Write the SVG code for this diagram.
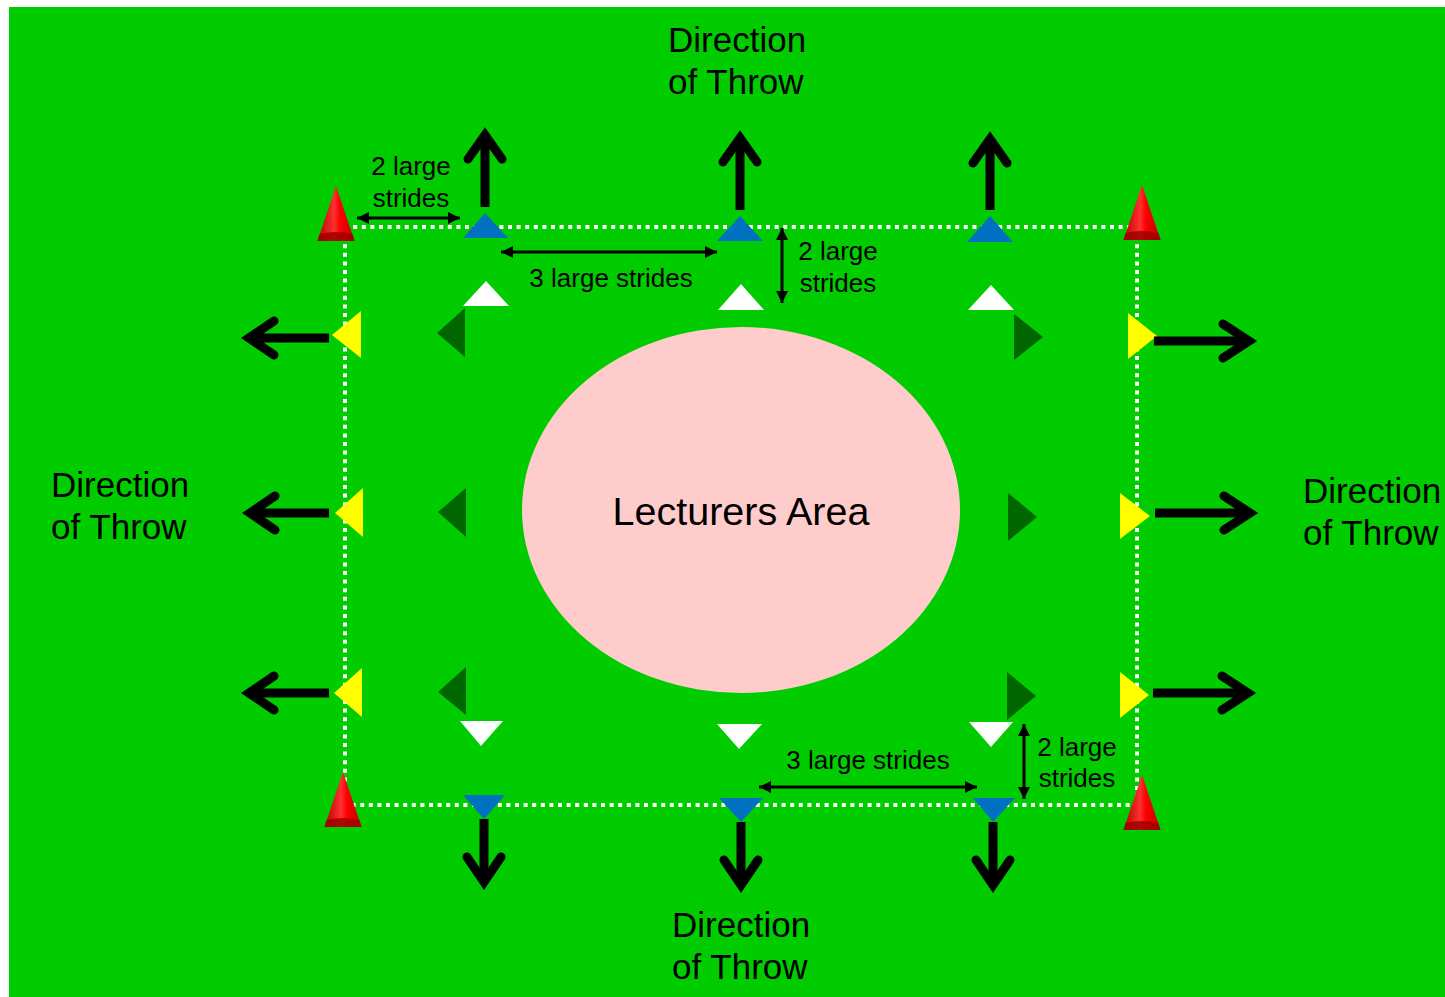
<svg xmlns="http://www.w3.org/2000/svg" xmlns:xlink="http://www.w3.org/1999/xlink" width="1445" height="997" viewBox="0 0 1445 997">
<defs>
<style>
.dot{stroke:#FFFFFF;stroke-width:4;stroke-dasharray:4 4.6;fill:none}
.shaft{stroke:#000;stroke-width:9;stroke-linecap:butt;fill:none}
.head{stroke:#000;stroke-width:9;stroke-linecap:round;stroke-linejoin:miter;stroke-miterlimit:10;fill:none}
.dim{stroke:#000;stroke-width:3;fill:none;marker-start:url(#ah);marker-end:url(#ah)}
.blue{fill:#0070C0}
.white{fill:#FFFFFF}
.dg{fill:#006600}
.yel{fill:#FFFF00}
.lbl{font-family:"Liberation Sans",Arial,sans-serif;font-size:26px;fill:#000}
.dir{font-family:"Liberation Sans",Arial,sans-serif;font-size:35px;fill:#000}
</style>
<marker id="ah" viewBox="0 0 12 12" refX="12" refY="6" markerWidth="12" markerHeight="12" markerUnits="userSpaceOnUse" orient="auto-start-reverse">
<path d="M0,0 L12,6 L0,12 Z" fill="#000"/>
</marker>
<linearGradient id="coneG" x1="0" y1="0" x2="1" y2="0">
<stop offset="0" stop-color="#B80000"/>
<stop offset="0.45" stop-color="#FF3030"/>
<stop offset="0.6" stop-color="#FF0000"/>
<stop offset="1" stop-color="#C00000"/>
</linearGradient>
<g id="cone">
<path d="M0,0 L18.5,55 L-18.5,55 Z" fill="url(#coneG)"/>
<path d="M-18.5,55 L18.5,55 L16.5,48 Q0,44 -16.5,48 Z" fill="#A00000" opacity="0.85"/>
</g>
</defs>

<rect id="field" x="9" y="7" width="1436" height="990" fill="#00CC00"/>

<g id="boundary">
<line class="dot" x1="336" y1="227" x2="1142" y2="227"/>
<line class="dot" x1="345" y1="227" x2="345" y2="805"/>
<line class="dot" x1="343" y1="805" x2="1142" y2="805"/>
<line class="dot" x1="1137" y1="227" x2="1137" y2="805"/>
</g>

<g id="lecturers-area">
<ellipse cx="741" cy="510" rx="219" ry="183" fill="#FFCCCC"/>
<text x="741" y="525" text-anchor="middle" font-family="Liberation Sans, Arial, sans-serif" font-size="39.5" fill="#000">Lecturers Area</text>
</g>

<g id="cones">
<use id="cone-tl" xlink:href="#cone" x="336" y="186"/>
<use id="cone-tr" xlink:href="#cone" x="1142" y="185"/>
<use id="cone-bl" xlink:href="#cone" x="343" y="772"/>
<use id="cone-br" xlink:href="#cone" x="1142" y="775"/>
</g>

<g id="blue-markers">
<polygon class="blue" points="485,213 508,238 463,238"/>
<polygon class="blue" points="740,216 763,241 717,241"/>
<polygon class="blue" points="990,216 1013,242 967,242"/>
<polygon class="blue" points="463,795 505,795 484,819"/>
<polygon class="blue" points="719,798 763,798 741,822"/>
<polygon class="blue" points="973,798 1015,798 993,822"/>
</g>

<g id="white-markers">
<polygon class="white" points="486,281 509,306 463,306"/>
<polygon class="white" points="741,284 764,310 718,310"/>
<polygon class="white" points="991,285 1014,310 968,310"/>
<polygon class="white" points="460,721 503,721 481,746"/>
<polygon class="white" points="717,724 762,724 739,749"/>
<polygon class="white" points="969,722 1013,722 991,747"/>
</g>

<g id="darkgreen-markers">
<polygon class="dg" points="437,333 465,308 465,357"/>
<polygon class="dg" points="438,512 466,488 466,537"/>
<polygon class="dg" points="438,692 466,667 466,715"/>
<polygon class="dg" points="1043,337 1014,314 1014,360"/>
<polygon class="dg" points="1037,517 1008,493 1008,541"/>
<polygon class="dg" points="1036,696 1007,672 1007,720"/>
</g>

<g id="yellow-markers">
<polygon class="yel" points="332,335 361,311 361,358"/>
<polygon class="yel" points="335,513 363,488 363,537"/>
<polygon class="yel" points="334,693 362,668 362,717"/>
<polygon class="yel" points="1157,336 1128,313 1128,359"/>
<polygon class="yel" points="1150,516 1120,493 1120,539"/>
<polygon class="yel" points="1149,695 1120,672 1120,718"/>
</g>

<g id="connectors">
<g id="throw-up">
<line class="shaft" x1="485" y1="207" x2="485" y2="136"/><polyline class="head" points="468,159 485,135 502,159"/>
<line class="shaft" x1="740" y1="210" x2="740" y2="139"/><polyline class="head" points="723,162 740,138 757,162"/>
<line class="shaft" x1="990" y1="210" x2="990" y2="140"/><polyline class="head" points="973,163 990,139 1007,163"/>
</g>
<g id="throw-down">
<line class="shaft" x1="484" y1="819" x2="484" y2="881"/><polyline class="head" points="467,857 484,882 501,857"/>
<line class="shaft" x1="741" y1="822" x2="741" y2="884"/><polyline class="head" points="724,860 741,885 758,860"/>
<line class="shaft" x1="993" y1="822" x2="993" y2="884"/><polyline class="head" points="976,860 993,885 1010,860"/>
</g>
<g id="throw-left">
<line class="shaft" x1="329" y1="338" x2="250" y2="338"/><polyline class="head" points="274,321 249,338 274,355"/>
<line class="shaft" x1="329" y1="513" x2="251" y2="513"/><polyline class="head" points="275,496 250,513 275,530"/>
<line class="shaft" x1="329" y1="693" x2="250" y2="693"/><polyline class="head" points="274,676 249,693 274,710"/>
</g>
<g id="throw-right">
<line class="shaft" x1="1154" y1="341" x2="1248" y2="341"/><polyline class="head" points="1223,324 1249,341 1223,358"/>
<line class="shaft" x1="1155" y1="513" x2="1249" y2="513"/><polyline class="head" points="1224,496 1250,513 1224,530"/>
<line class="shaft" x1="1153" y1="693" x2="1247" y2="693"/><polyline class="head" points="1222,676 1248,693 1222,710"/>
</g>
<g id="dimensions">
<line class="dim" x1="357" y1="218" x2="460" y2="218"/>
<line class="dim" x1="501" y1="252" x2="717" y2="252"/>
<line class="dim" x1="782" y1="228" x2="782" y2="303"/>
<line class="dim" x1="759" y1="787" x2="977" y2="787"/>
<line class="dim" x1="1024" y1="724" x2="1024" y2="799"/>
</g>
</g>

<g id="labels">
<g id="dim-label-1"><text class="lbl" x="411" y="175" text-anchor="middle">2 large</text><text class="lbl" x="411" y="207" text-anchor="middle">strides</text></g>
<g id="dim-label-2"><text class="lbl" x="611" y="287" text-anchor="middle">3 large strides</text></g>
<g id="dim-label-3"><text class="lbl" x="838" y="260" text-anchor="middle">2 large</text><text class="lbl" x="838" y="292" text-anchor="middle">strides</text></g>
<g id="dim-label-4"><text class="lbl" x="868" y="769" text-anchor="middle">3 large strides</text></g>
<g id="dim-label-5"><text class="lbl" x="1077" y="756" text-anchor="middle">2 large</text><text class="lbl" x="1077" y="787" text-anchor="middle">strides</text></g>
<g id="dir-top"><text class="dir" x="668" y="52">Direction</text><text class="dir" x="668" y="94">of Throw</text></g>
<g id="dir-left"><text class="dir" x="51" y="497">Direction</text><text class="dir" x="51" y="539">of Throw</text></g>
<g id="dir-right"><text class="dir" x="1303" y="503">Direction</text><text class="dir" x="1303" y="545">of Throw</text></g>
<g id="dir-bottom"><text class="dir" x="672" y="937">Direction</text><text class="dir" x="672" y="979">of Throw</text></g>
</g>
</svg>
